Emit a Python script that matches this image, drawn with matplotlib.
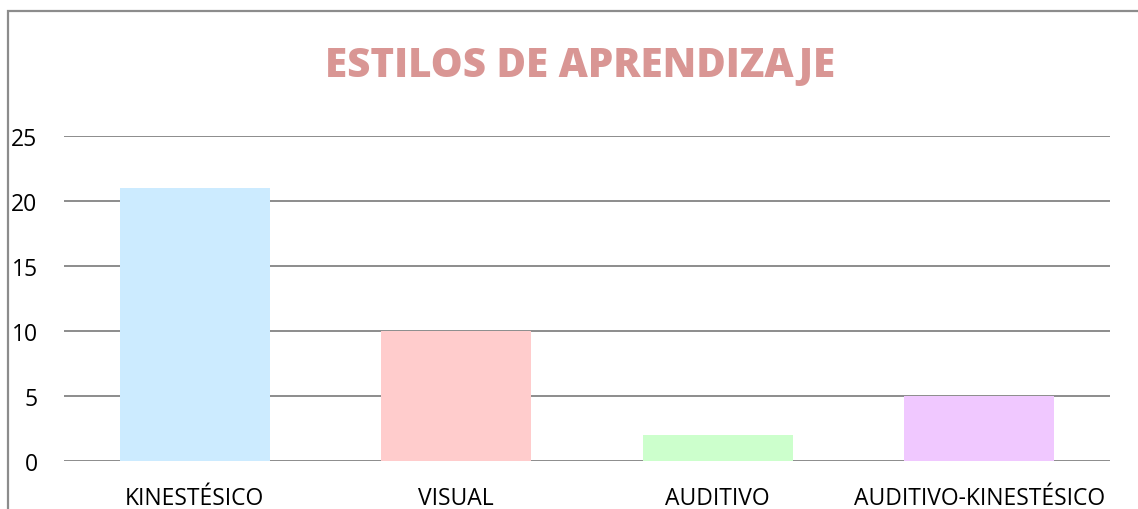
import matplotlib
matplotlib.use("Agg")
import matplotlib.pyplot as plt
from matplotlib.patches import Rectangle

categories = ["KINESTÉSICO", "VISUAL", "AUDITIVO", "AUDITIVO-KINESTÉSICO"]
values = [21, 10, 2, 5]
bar_colors = ["#CCEBFF", "#FFCCCC", "#CCFFCC", "#F0C8FF"]
y_ticks = [0, 5, 10, 15, 20, 25]

W, H = 1138, 510
fig = plt.figure(figsize=(W / 100, H / 100), dpi=100)
fig.patch.set_facecolor("white")

# outer chart frame (cut off on right and bottom like the source)
fig.patches.append(Rectangle((8 / W, -0.1), 1.2, 1 - 12 / H + 0.1,
                             transform=fig.transFigure, fill=False,
                             edgecolor="#8c8c8c", linewidth=1.6))

ax = fig.add_axes([64 / W, 48 / H, (1110 - 64) / W, (462 - 137) / H])
x = range(len(categories))
ax.bar(x, values, width=0.574, color=bar_colors, zorder=3)

ax.set_xlim(-0.5, len(categories) - 0.5)
ax.set_ylim(0, 25)
ax.set_yticks(y_ticks)
ax.set_xticks(list(x))
ax.set_xticklabels(categories)
for y in y_ticks:
    ax.axhline(y, color="#8c8c8c", linewidth=1.4, zorder=1)

for s in ax.spines.values():
    s.set_visible(False)
ax.tick_params(axis="both", length=0, labelsize=16.5, labelcolor="black")
ax.tick_params(axis="y", pad=19)
ax.tick_params(axis="x", pad=18)
for lab in ax.get_xticklabels() + ax.get_yticklabels():
    lab.set_fontfamily("Open Sans")

fig.text(580 / W, 1 - 66 / H, "ESTILOS DE APRENDIZAJE", ha="center", va="center",
         fontsize=29, fontweight="heavy", color="#D99694", family="Open Sans")

plt.savefig("out.png", dpi=100)
